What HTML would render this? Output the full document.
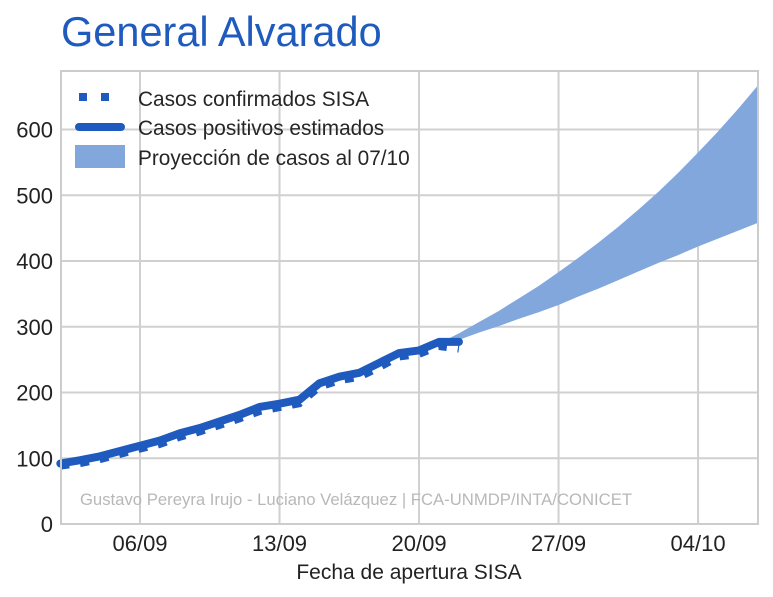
<!DOCTYPE html>
<html><head><meta charset="utf-8">
<style>
html,body{margin:0;padding:0;background:#fff;}
svg{display:block;font-family:"Liberation Sans",sans-serif;}
</style></head>
<body>
<svg id="chart" width="773" height="597" viewBox="0 0 773 597">
<text x="61" y="46" font-size="41.5" fill="#1f5bbf">General Alvarado</text>
<g id="grid"></g>
<g id="band"></g>
<g id="series"></g>
<rect x="61" y="71" width="697" height="453" fill="none" stroke="#cccccc" stroke-width="2"/>
<g id="axes"></g>
<text x="356" y="505" font-size="16.7" fill="#b8b8b8" text-anchor="middle">Gustavo Pereyra Irujo - Luciano Velázquez | FCA-UNMDP/INTA/CONICET</text>
<text x="409" y="579" font-size="21" fill="#222" text-anchor="middle">Fecha de apertura SISA</text>
<g>
  <g>
    <rect x="79" y="93" width="8" height="8" fill="#1f5bbf"/>
    <rect x="101" y="93" width="8" height="8" fill="#1f5bbf"/>
    <text x="138" y="106" font-size="20.8" fill="#262626">Casos confirmados SISA</text>
  </g>
  <g>
    <line x1="79" y1="127" x2="121" y2="127" stroke="#1f5bbf" stroke-width="8" stroke-linecap="round"/>
    <text x="138" y="135" font-size="20.8" fill="#262626">Casos positivos estimados</text>
  </g>
  <g>
    <rect x="75" y="145" width="50" height="23" fill="#82a7dd"/>
    <text x="138" y="165" font-size="20.8" fill="#262626">Proyección de casos al 07/10</text>
  </g>
</g>
</svg>
<script>
// data: day index 0 = 02/09
const estimated = [92,97,103,111,119,127,138,146,156,166,178,183,189,214,224,230,245,260,264,277,277];
const confirmed = [88,92,98,106,114,121,132,140,150,160,171,177,183,208,218,223,238,254,258,270,266];
const projStart = 18; // 20/09
const projUpper = [260,275,290,307,324,343,362,383,405,428,452,478,505,534,565,597,631,667];
const projLower = [260,270,280,291,301,312,322,333,346,358,371,384,397,409,422,434,446,458];
const yTicks = [0,100,200,300,400,500,600];
const xTickDays = [4,11,18,25,32];
const xTickLabels = ["06/09","13/09","20/09","27/09","04/10"];

const X = d => 60.3 + d * 19.93;
const Y = v => 524 - v * 0.6575;
const NS = "http://www.w3.org/2000/svg";
function mk(tag, attrs, parent){const e=document.createElementNS(NS,tag);for(const k in attrs)e.setAttribute(k,attrs[k]);parent.appendChild(e);return e;}
const grid=document.getElementById('grid'), axes=document.getElementById('axes');
yTicks.forEach(v=>{
  const l=mk('line',{x1:61,x2:758,y1:Y(v),y2:Y(v),stroke:'#d0d0d0','stroke-width':2},grid);
  
  
  const t=mk('text',{x:53,y:Y(v)+8,'font-size':22,fill:'#222','text-anchor':'end'},axes);
  t.textContent=v;
  
  
});
xTickDays.forEach((d,i)=>{
  const l=mk('line',{x1:X(d),x2:X(d),y1:71,y2:524,stroke:'#d0d0d0','stroke-width':2},grid);
  
  
  const t=mk('text',{x:X(d),y:551,'font-size':22,fill:'#222','text-anchor':'middle'},axes);
  t.textContent=xTickLabels[i];
  
  
});
let pts=[];
projUpper.forEach((v,i)=>pts.push(X(projStart+i)+','+Y(v)));
for(let i=projLower.length-1;i>=0;i--)pts.push(X(projStart+i)+','+Y(projLower[i]));
const band=mk('polygon',{points:pts.join(' '),fill:'#82a7dd'},document.getElementById('band'));


const series=document.getElementById('series');
const c=mk('polyline',{points:confirmed.map((v,i)=>X(i)+','+Y(v)).join(' '),fill:'none',stroke:'#1f5bbf','stroke-width':7,'stroke-dasharray':'9 11'},series);


const e=mk('polyline',{points:estimated.map((v,i)=>X(i)+','+Y(v)).join(' '),fill:'none',stroke:'#1f5bbf','stroke-width':8,'stroke-linecap':'round','stroke-linejoin':'round'},series);


</script>
</body></html>
